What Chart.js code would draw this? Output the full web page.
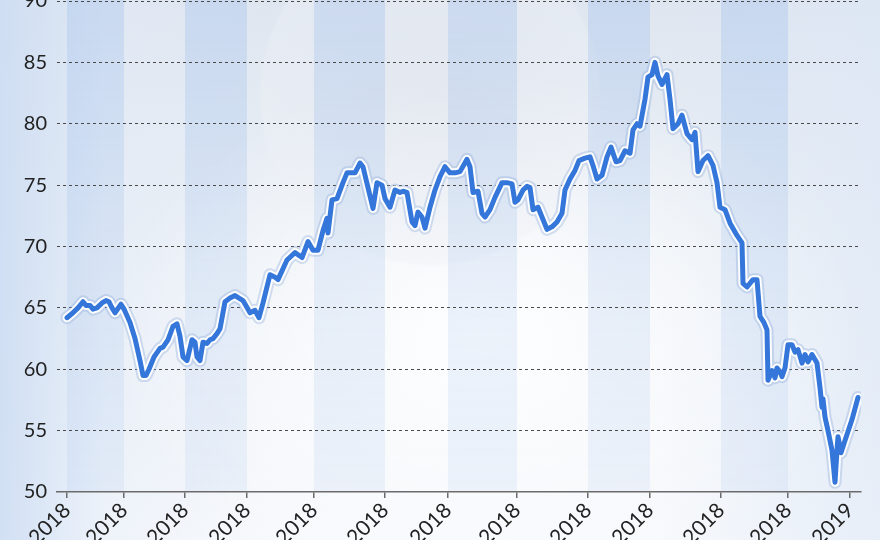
<!DOCTYPE html>
<html>
<head>
<meta charset="utf-8">
<script src="https://cdn.jsdelivr.net/npm/chart.js@4"></script>
<style>
  html, body { margin: 0; padding: 0; }
  body {
    width: 880px; height: 540px; overflow: hidden; position: relative;
    background:
      radial-gradient(circle at 430px 95px, rgba(228,232,239,0.6) 0, rgba(238,241,246,0.4) 168px, rgba(255,255,255,0) 172px),
      radial-gradient(ellipse at 55% 62%, rgba(255,255,255,0.95) 0%, rgba(255,255,255,0) 55%),
      linear-gradient(90deg, rgba(205,221,243,0.9) 0%, rgba(225,234,247,0.4) 12%, rgba(255,255,255,0) 30%, rgba(255,255,255,0) 75%, rgba(220,231,246,0.6) 100%),
      linear-gradient(180deg, #dfe6f0 0%, #ebf0f6 45%, #f7f9fc 100%);
  }
  #wrap { position: absolute; left: 0; top: -21px; width: 880px; height: 570px; }
</style>
</head>
<body>
<div id="wrap"><canvas id="chart"></canvas></div>
<script>
// x positions of the samples along the year (arbitrary step units), and the index values
const steps = [0, 6, 11, 16, 19, 23, 26, 30, 35, 39, 42, 45, 48, 54, 57, 63, 68, 73, 76, 79,
  82, 87, 93, 96, 101, 106, 110, 113, 116, 120, 125, 128, 130, 133, 136, 140, 143, 146, 150, 153,
  158, 163, 168, 176, 183, 188, 192, 196, 203, 208, 211, 220, 228, 235, 241, 246, 251, 256, 260, 261,
  265, 270, 276, 280, 283, 288, 293, 296, 301, 306, 310, 315, 318, 323, 328, 333, 336, 340, 345, 348,
  351, 355, 358, 363, 368, 373, 378, 383, 388, 393, 400, 403, 406, 411, 415, 418, 423, 428, 435, 440,
  445, 448, 451, 456, 460, 463, 466, 471, 476, 480, 485, 490, 495, 498, 503, 508, 512, 518, 523, 526,
  530, 535, 540, 544, 549, 553, 558, 563, 566, 570, 573, 578, 581, 585, 588, 591, 595, 600, 603, 606,
  611, 615, 620, 625, 628, 631, 636, 641, 646, 650, 653, 658, 663, 670, 675, 676, 680, 686, 690, 693,
  697, 700, 701, 705, 708, 710, 713, 715, 718, 721, 725, 728, 731, 735, 738, 741, 745, 750, 753, 755,
  756, 758, 761, 765, 768, 770, 771, 774, 778, 785, 791];
const values = [64.2, 64.6, 65.0, 65.5, 65.2, 65.2, 64.9, 65.0, 65.4, 65.6, 65.5, 65.0, 64.6, 65.3, 64.9, 63.8, 62.5, 60.7, 59.5, 59.5,
  60.0, 61.0, 61.7, 61.8, 62.4, 63.5, 63.7, 62.7, 61.0, 60.7, 62.4, 62.2, 61.0, 60.7, 62.2, 62.1, 62.4, 62.5, 62.9, 63.3,
  65.5, 65.8, 66.0, 65.6, 64.6, 64.8, 64.2, 65.4, 67.7, 67.5, 67.3, 68.9, 69.5, 69.1, 70.4, 69.7, 69.7, 71.3, 72.3, 71.1,
  73.8, 73.9, 75.2, 76.0, 76.0, 76.0, 76.8, 76.5, 74.8, 73.1, 75.2, 75.0, 73.9, 73.2, 74.6, 74.4, 74.5, 74.4, 72.0, 71.7,
  72.8, 72.4, 71.5, 73.2, 74.6, 75.7, 76.5, 76.0, 76.0, 76.1, 77.1, 76.5, 74.4, 74.5, 72.7, 72.4, 73.0, 74.0, 75.2, 75.2,
  75.1, 73.6, 73.8, 74.6, 74.9, 74.8, 73.0, 73.2, 72.2, 71.4, 71.6, 72.0, 72.7, 74.6, 75.5, 76.2, 77.0, 77.2, 77.3, 76.6,
  75.5, 75.8, 77.3, 78.1, 76.9, 77.0, 77.8, 77.6, 79.5, 80.0, 79.8, 82.0, 83.8, 84.0, 85.0, 83.9, 83.2, 84.0, 82.0, 79.6,
  80.0, 80.7, 79.2, 78.7, 79.3, 76.1, 77.0, 77.4, 76.6, 75.2, 73.2, 73.0, 71.9, 70.9, 70.3, 67.0, 66.7, 67.3, 67.3, 64.3,
  63.8, 63.2, 59.1, 59.9, 59.3, 60.1, 59.8, 59.4, 60.1, 62.0, 62.0, 61.4, 61.6, 60.5, 61.2, 60.6, 61.2, 60.5, 58.5, 56.9,
  57.6, 56.1, 55.0, 53.4, 50.8, 53.4, 54.5, 53.2, 54.2, 55.9, 57.7];

const tickPos = [0, 57, 118, 180, 247, 318, 381, 450, 521, 583, 654, 721, 783];
const tickLabels = ['2018', '2018', '2018', '2018', '2018', '2018', '2018', '2018', '2018', '2018', '2018', '2018', '2019'];
const yTicks = [50, 55, 60, 65, 70, 75, 80, 85, 90];

const points = steps.map((s, i) => ({ x: s, y: values[i] }));

// alternating light blue bands between year ticks
const bandPlugin = {
  id: 'bands',
  beforeDraw(chart) {
    const ctx = chart.ctx;
    const area = chart.chartArea;
    const xs = chart.scales.x;
    const grad = ctx.createLinearGradient(0, area.top, 0, area.bottom);
    grad.addColorStop(0, 'rgba(150,185,235,0.3)');
    grad.addColorStop(0.6, 'rgba(150,185,235,0.18)');
    grad.addColorStop(1, 'rgba(150,185,235,0.13)');
    ctx.save();
    ctx.fillStyle = grad;
    for (let i = 0; i < tickPos.length - 1; i += 2) {
      const x1 = xs.getPixelForValue(tickPos[i]);
      const x2 = xs.getPixelForValue(tickPos[i + 1]);
      ctx.fillRect(x1, 0, x2 - x1, area.bottom);
    }
    ctx.restore();
  }
};

const font = { family: 'Lato', size: 20 };

new Chart(document.getElementById('chart').getContext('2d'), {
  type: 'line',
  data: {
    datasets: [
      { data: points, borderColor: '#3476da', borderWidth: 5, pointRadius: 0, tension: 0, borderJoinStyle: 'round', borderCapStyle: 'round' },
      { data: points, borderColor: 'rgba(255,255,255,0.95)', borderWidth: 9, pointRadius: 0, tension: 0, borderJoinStyle: 'round', borderCapStyle: 'round' },
      { data: points, borderColor: 'rgba(140,170,215,0.35)', borderWidth: 13, pointRadius: 0, tension: 0, borderJoinStyle: 'round', borderCapStyle: 'round' }
    ]
  },
  options: {
    animation: false,
    responsive: true,
    maintainAspectRatio: false,
    layout: { padding: { left: 0, right: 19, top: 0, bottom: 0 } },
    plugins: { legend: { display: false }, tooltip: { enabled: false } },
    scales: {
      x: {
        type: 'linear',
        min: -10,
        max: 794,
        afterBuildTicks: axis => { axis.ticks = tickPos.map(v => ({ value: v })); },
        afterFit: axis => { axis.height = 57; },
        grid: { drawOnChartArea: false, drawTicks: true, tickLength: 6, color: '#6b6b6b', lineWidth: 1.5 },
        border: { display: true, color: '#6b6b6b', width: 1.5 },
        ticks: {
          autoSkip: false,
          maxRotation: 45,
          minRotation: 45,
          padding: 0,
          color: '#222',
          font: { family: 'Lato', size: 21 },
          callback: v => tickLabels[tickPos.indexOf(v)]
        }
      },
      y: {
        min: 50,
        max: 90,
        afterBuildTicks: axis => { axis.ticks = yTicks.map(v => ({ value: v })); },
        afterFit: axis => { axis.width = 57; },
        grid: {
          drawTicks: false,
          color: c => (c.tick && c.tick.value === 50) ? 'rgba(0,0,0,0)' : '#4a4a4a',
          lineWidth: 1
        },
        border: { display: false, dash: [3, 3] },
        ticks: { padding: 10, color: '#222', font: font }
      }
    }
  },
  plugins: [bandPlugin]
});
</script>
</body>
</html>
